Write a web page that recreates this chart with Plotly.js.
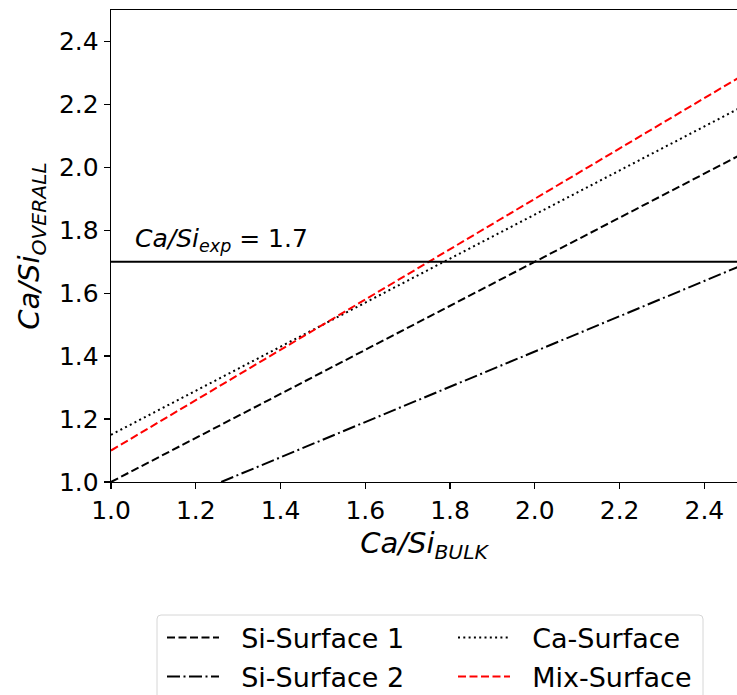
<!DOCTYPE html>
<html>
<head>
<meta charset="utf-8">
<script src="https://cdn.plot.ly/plotly-3.0.1.min.js"></script>
<style>
  html, body { margin: 0; padding: 0; background: #fff; overflow: hidden; }
  #chart { width: 737px; height: 695px; }
</style>
</head>
<body>
<div id="chart"></div>
<script>
// Ca/Si ratio of the bulk vs. overall Ca/Si for the different surface terminations
const bulkRatio = [1.0, 1.25, 1.5, 1.75, 2.0, 2.25, 2.5];
const siSurface1 = [1.0, 1.175, 1.35, 1.525, 1.70, 1.875, 2.05];
const caSurface = [1.15, 1.325, 1.50, 1.675, 1.85, 2.025, 2.20];
const mixSurface = [1.10, 1.30, 1.50, 1.70, 1.90, 2.10, 2.30];

const bulkRatioSi2 = [1.26, 1.5, 1.75, 2.0, 2.25, 2.5];
const siSurface2 = [1.0, 1.135, 1.275, 1.415, 1.555, 1.695];

const seriesNames = ['Si-Surface 1', 'Si-Surface 2', 'Ca-Surface', 'Mix-Surface'];

const expLevel = 1.7;
const expRange = [1.0, 2.5];

const tickVals = [1.0, 1.2, 1.4, 1.6, 1.8, 2.0, 2.2, 2.4];
const tickText = ['1.0', '1.2', '1.4', '1.6', '1.8', '2.0', '2.2', '2.4'];

const FONT = 'DejaVu Sans, Liberation Sans, sans-serif';

// plot-area geometry in pixels, used to place legend entries in paper units
const W = 737, H = 695, ML = 111, MT = 10, MB = 213;
const plotW = W - ML, plotH = H - MT - MB, plotBottom = H - MB;
const px = (x) => (x - ML) / plotW;
const py = (y) => (plotBottom - y) / plotH;

// a little extra room between legend handle and label
const pad = (s) => '&nbsp;&nbsp;' + s;

const traces = [
  {
    x: bulkRatio, y: siSurface1, mode: 'lines', name: pad(seriesNames[0]), legend: 'legend',
    line: { color: '#000000', width: 2, dash: '8px,3.5px' }
  },
  {
    x: bulkRatioSi2, y: siSurface2, mode: 'lines', name: pad(seriesNames[1]), legend: 'legend2',
    line: { color: '#000000', width: 2, dash: '13px,3.5px,2px,3.5px' }
  },
  {
    x: bulkRatio, y: caSurface, mode: 'lines', name: pad(seriesNames[2]), legend: 'legend3',
    line: { color: '#000000', width: 2, dash: '2px,3.3px' }
  },
  {
    x: bulkRatio, y: mixSurface, mode: 'lines', name: pad(seriesNames[3]), legend: 'legend4',
    line: { color: '#ff0000', width: 2, dash: '8px,3.5px' }
  },
  {
    x: expRange, y: [expLevel, expLevel], mode: 'lines', showlegend: false,
    line: { color: '#000000', width: 2 }, hoverinfo: 'skip'
  }
];

const axisCommon = {
  showgrid: false, zeroline: false,
  showline: true, linecolor: '#000000', linewidth: 1.3,
  ticks: 'outside', ticklen: 6, tickwidth: 1.3, tickcolor: '#000000',
  tickfont: { family: FONT, size: 25, color: '#000000' },
  tickvals: tickVals, ticktext: tickText
};

function legendAt(xPix, yPix) {
  return {
    orientation: 'h', x: px(xPix), xanchor: 'left', y: py(yPix), yanchor: 'middle',
    bgcolor: 'rgba(0,0,0,0)', borderwidth: 0, itemwidth: 52,
    font: { family: FONT, size: 27, color: '#000000' }
  };
}

// legend frame with rounded top corners
const bx0 = px(157), bx1 = px(703), by0 = py(615), by1 = py(720);
const rx = 4 / plotW, ry = 4 / plotH;
const framePath = 'M' + bx0 + ',' + by1 +
  ' L' + bx0 + ',' + (by0 - ry) +
  ' Q' + bx0 + ',' + by0 + ' ' + (bx0 + rx) + ',' + by0 +
  ' L' + (bx1 - rx) + ',' + by0 +
  ' Q' + bx1 + ',' + by0 + ' ' + bx1 + ',' + (by0 - ry) +
  ' L' + bx1 + ',' + by1 + ' Z';

const layout = {
  width: W, height: H,
  margin: { l: ML, r: 0, t: MT, b: MB, autoexpand: false },
  paper_bgcolor: '#ffffff', plot_bgcolor: '#ffffff',
  font: { family: FONT, color: '#000000' },
  xaxis: Object.assign({}, axisCommon, {
    range: [1.0, 2.477], mirror: true,
    title: { text: '<i>Ca/Si<sub>BULK</sub></i>', font: { family: FONT, size: 29 }, standoff: 8 }
  }),
  yaxis: Object.assign({}, axisCommon, {
    range: [1.0, 2.5],
    title: { text: '<i>Ca/Si<sub>OVERALL</sub></i>', font: { family: FONT, size: 29 }, standoff: 10 }
  }),
  annotations: [{
    x: 1.051, y: expLevel, xref: 'x', yref: 'y',
    xanchor: 'left', yanchor: 'bottom', yshift: 4, showarrow: false,
    text: '<i>Ca/Si<sub>exp</sub></i> = ' + expLevel.toFixed(1),
    font: { family: FONT, size: 25, color: '#000000' }
  }],
  shapes: [{
    type: 'path', xref: 'paper', yref: 'paper', path: framePath,
    fillcolor: '#ffffff', line: { color: '#d6d6d6', width: 1 }, layer: 'below'
  }],
  showlegend: true,
  legend: legendAt(162, 638),
  legend2: legendAt(162, 677),
  legend3: legendAt(453, 638),
  legend4: legendAt(453, 677)
};

Plotly.newPlot('chart', traces, layout, { displayModeBar: false, staticPlot: true });
</script>
</body>
</html>
